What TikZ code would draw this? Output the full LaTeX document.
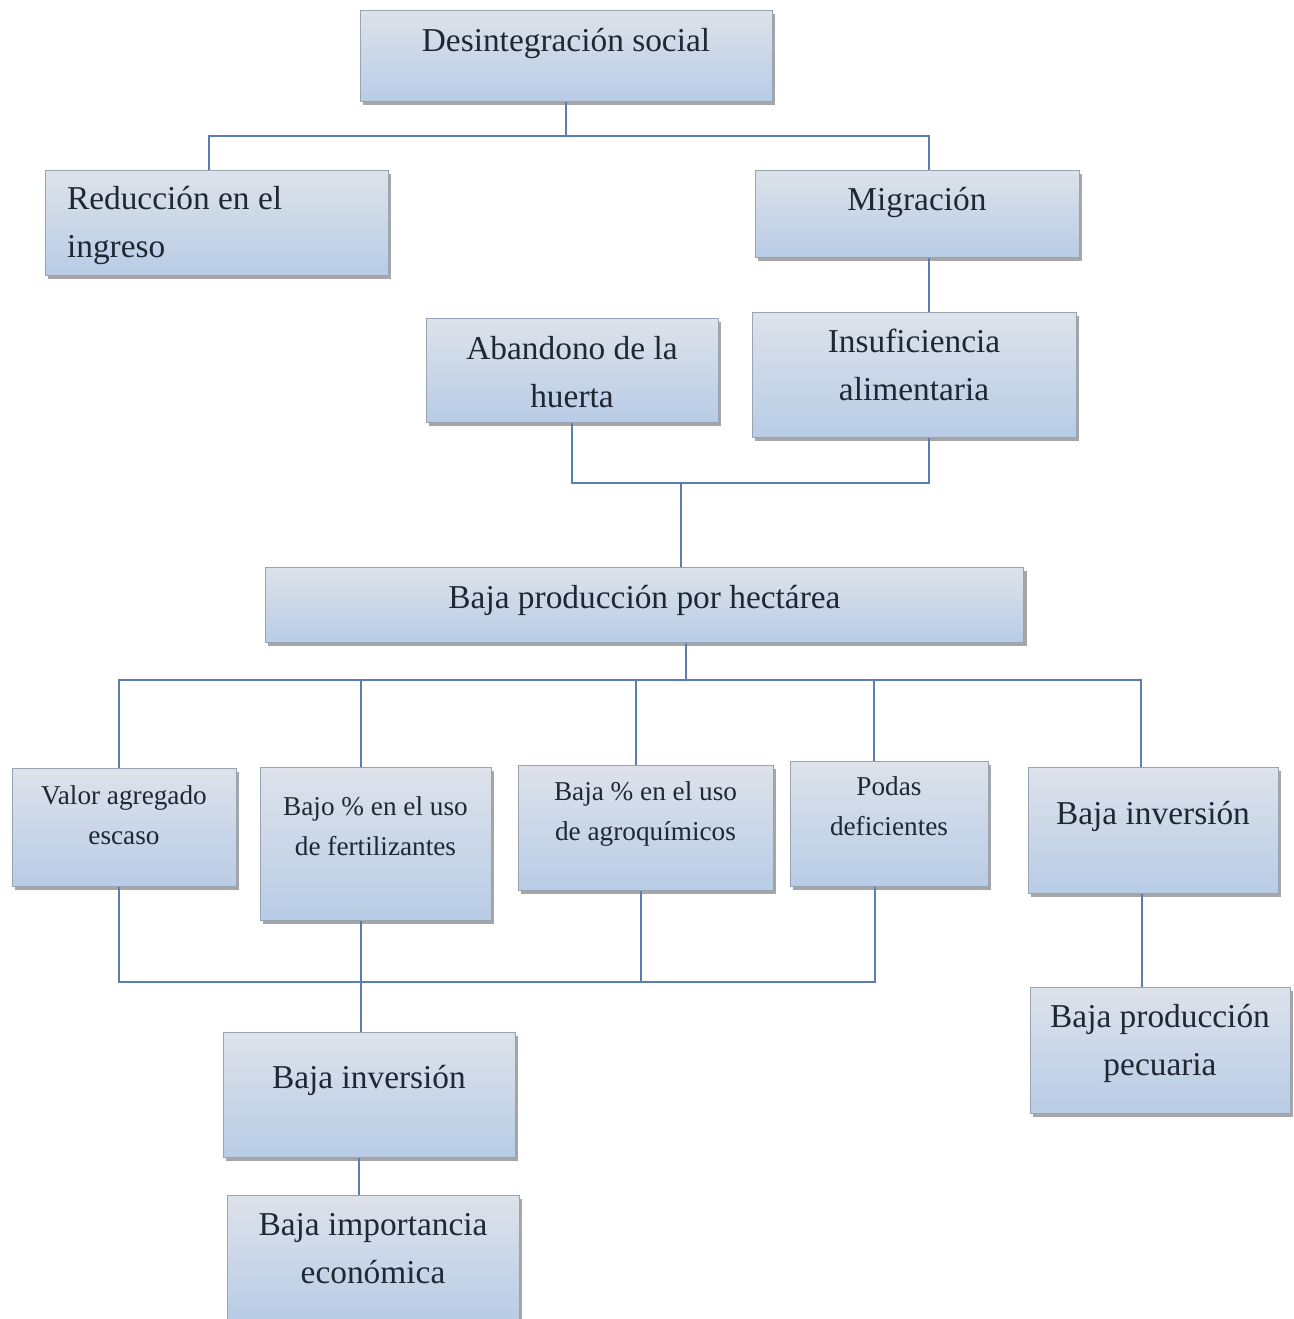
\documentclass[tikz,border=0pt]{standalone}
\usepackage{fontspec}
\setmainfont{Liberation Serif}
\usepackage{xcolor}
\usepackage{tikz}
\usetikzlibrary{shadows, calc}

\definecolor{boxtop}{HTML}{DDE2EA}
\definecolor{boxbot}{HTML}{B8CCE6}
\definecolor{boxline}{HTML}{98A3B3}
\definecolor{boxtext}{HTML}{1F2733}
\definecolor{linkblue}{HTML}{5B7DB1}

\begin{document}
\begin{tikzpicture}[
  x=0.02cm, y=-0.02cm,
  box/.style n args={3}{draw=boxline, line width=0.5pt,
                  top color=boxtop, bottom color=boxbot,
                  inner sep=0pt, anchor=north, text=boxtext,
                  drop shadow={shadow xshift=1.5pt, shadow yshift=-2pt,
                               fill=black, opacity=0.35},
                  execute at begin node={\begin{minipage}[t][#2][t]{#1}%
                    \centering\vspace*{#3}\strut},
                  execute at end node={\end{minipage}}},
  big/.style   = {font=\fontsize{19}{27.3}\selectfont},
  small/.style = {font=\fontsize{15.5}{22.8}\selectfont},
  link/.style  = {draw=linkblue, line width=1.1pt},
]
\useasboundingbox (0,0) rectangle (1294,1319);

%% upper part
\node[box={8.24cm}{1.82cm}{4.2pt}, big] (des) at (566,10) {Desintegración social};
\node[box={6.86cm}{2.10cm}{3.1pt}, big,
      execute at begin node={\raggedright\leftskip=0.44cm}]
  (red) at (216.5,170) {Reducción en el\\ingreso};
\node[box={6.48cm}{1.74cm}{3.7pt}, big] (mig) at (917,170) {Migración};
\node[box={5.84cm}{2.08cm}{4.2pt}, big] (aba) at (572,318) {Abandono de la\\huerta};
\node[box={6.48cm}{2.50cm}{3.7pt}, big] (ins) at (914,312) {Insuficiencia\\alimentaria};

%% central problem
\node[box={15.18cm}{1.50cm}{4.2pt}, big] (baj) at (644.5,567) {Baja producción por hectárea};

%% causes
\node[box={4.48cm}{2.36cm}{4.5pt}, small] (val) at (124,768) {Valor agregado\\escaso};
\node[box={4.62cm}{3.06cm}{11.3pt}, small] (fer) at (375.5,767) {Bajo \% en el uso\\de fertilizantes};
\node[box={5.10cm}{2.50cm}{3.9pt}, small] (agr) at (645.5,765) {Baja \% en el uso\\de agroquímicos};
\node[box={3.96cm}{2.50cm}{3.4pt}, small] (pod) at (889,761) {Podas\\deficientes};
\node[box={5.00cm}{2.52cm}{13.3pt}, big] (inv1) at (1153,767) {Baja inversión};
\node[box={5.20cm}{2.52cm}{3.7pt}, big] (pec) at (1160,987) {Baja producción\\pecuaria};

%% lower causes
\node[box={5.84cm}{2.50cm}{12.8pt}, big] (bin) at (369,1032) {Baja inversión};
\node[box={5.84cm}{2.50cm}{3.7pt}, big] (imp) at (373,1195) {Baja importancia\\económica};

%% connectors, top
\draw[link] (des.south) -- ++(0,34) coordinate (j1);
\draw[link] ([xshift=-0.15cm]red.north) |- (j1) -| ([xshift=0.24cm]mig.north);
\draw[link] ([xshift=0.24cm]mig.south) -- ([xshift=0.24cm]mig.south |- ins.north);
\coordinate (j2) at (681,483);
\draw[link] (aba.south) |- (j2) -| ([xshift=0.3cm]ins.south);
\draw[link] (j2) -- (j2 |- baj.north);

%% connectors, middle
\coordinate (j3) at (686,680);
\draw[link] (j3 |- baj.south) -- (j3);
\foreach \n/\dx in {val/-0.1, fer/-0.29, agr/-0.19, pod/-0.3, inv1/-0.24}
  \draw[link] (j3) -| ([xshift=\dx cm]\n.north);

%% connectors, bottom
\coordinate (j4) at (361,982);
\draw[link] ([xshift=-0.1cm]val.south) |- (j4);
\draw[link] ([xshift=-0.28cm]pod.south) |- (j4);
\draw[link] ([xshift=-0.09cm]agr.south) -- ([xshift=-0.09cm]agr.south |- j4);
\draw[link] ([xshift=-0.29cm]fer.south) -- ([xshift=-0.29cm]fer.south |- bin.north);
\draw[link] ([xshift=-0.22cm]inv1.south) -- ([xshift=-0.22cm]inv1.south |- pec.north);
\draw[link] ([xshift=-0.2cm]bin.south) -- ([xshift=-0.2cm]bin.south |- imp.north);

\end{tikzpicture}
\end{document}
